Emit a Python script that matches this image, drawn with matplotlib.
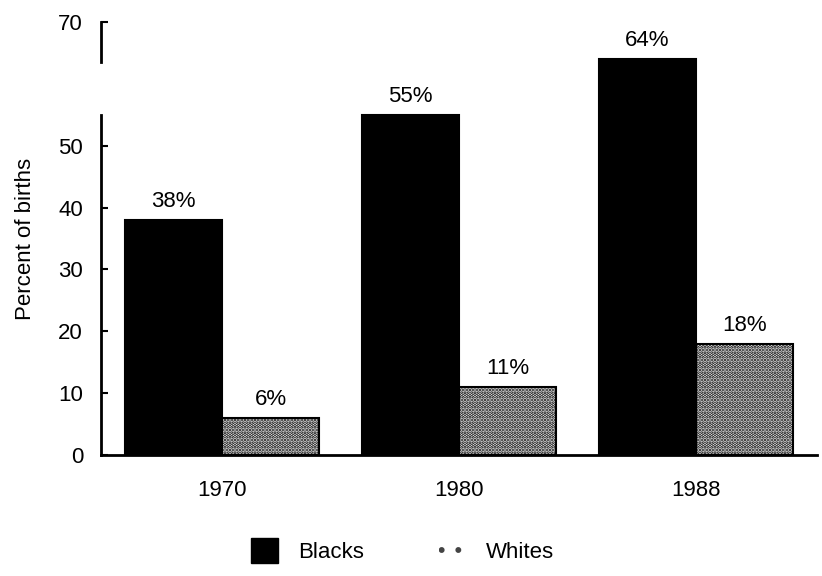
import matplotlib
matplotlib.use("Agg")
import matplotlib.pyplot as plt
from matplotlib.patches import Patch
import numpy as np

years = ["1970", "1980", "1988"]
blacks = [38, 55, 64]
whites = [6, 11, 18]
y_ticks = [0, 10, 20, 30, 40, 50, 70]

plt.rcParams['font.family'] = ['Liberation Sans', 'DejaVu Sans']
plt.rcParams['hatch.linewidth'] = 1.8

fig = plt.figure(figsize=(8.22, 5.76), dpi=100)
ax = fig.add_axes([0.123, 0.21, 0.871, 0.752])

x = np.arange(len(years))
w = 0.41
b1 = ax.bar(x - w / 2, blacks, w, color='black', edgecolor='black', linewidth=1.5)
b2 = ax.bar(x + w / 2, whites, w, color='white', edgecolor='black', linewidth=1.5,
            hatch='.....')

for bars, vals in ((b1, blacks), (b2, whites)):
    for r, v in zip(bars, vals):
        ax.text(r.get_x() + r.get_width() / 2, v + 1.3, f"{v}%",
                ha='center', va='bottom', fontsize=16)

ax.set_xlim(-0.51, 2.51)
ax.set_ylim(0, 70)
ax.set_xticks(x)
ax.set_xticklabels(years, fontsize=16)
ax.set_yticks(y_ticks)
ax.set_yticklabels([str(t) for t in y_ticks], fontsize=16)
ax.tick_params(axis='x', length=0, pad=18)
ax.tick_params(axis='y', direction='in', length=5, width=1.5, pad=13)
ax.set_ylabel("Percent of births", fontsize=16, labelpad=16)

# left spine drawn in two pieces, with a break around 60
for s in ('top', 'right', 'left'):
    ax.spines[s].set_visible(False)
ax.spines['bottom'].set_linewidth(2)
ax.plot([-0.51, -0.51], [0, 55], color='black', lw=2, clip_on=False)
ax.plot([-0.51, -0.51], [63.5, 70], color='black', lw=2, clip_on=False)

handles = [Patch(facecolor='black', edgecolor='black', label='Blacks'),
           Patch(facecolor='white', edgecolor='#444444', linewidth=0,
                 hatch='.', label='Whites')]
fig.legend(handles=handles, loc='lower center', bbox_to_anchor=(0.49, -0.012),
           ncol=2, frameon=False, fontsize=16, columnspacing=3.4,
           handlelength=1.2, handleheight=1.3, handletextpad=0.9)

fig.savefig("out.png", dpi=100)
